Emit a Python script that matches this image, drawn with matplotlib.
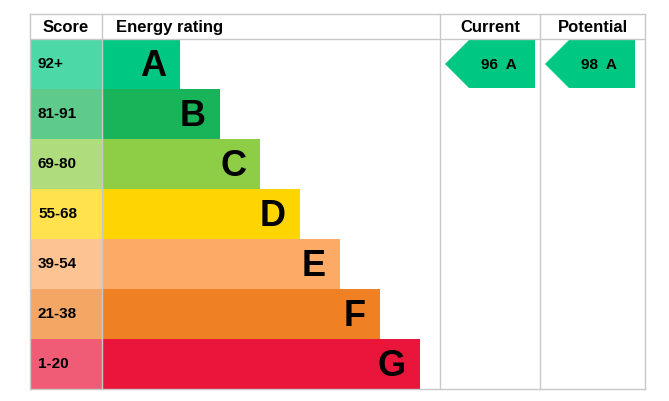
import matplotlib
matplotlib.use("Agg")
import matplotlib.pyplot as plt
from matplotlib.patches import Rectangle, Polygon
import matplotlib.colors as mc

bands = ["A", "B", "C", "D", "E", "F", "G"]
scores = ["92+", "81-91", "69-80", "55-68", "39-54", "21-38", "1-20"]
colors = ["#00c781", "#19b459", "#8dce46", "#ffd500", "#fcaa65", "#ef8023", "#e9153b"]
current_value, current_band = 96, "A"
potential_value, potential_band = 98, "A"

W, H = 669, 401
fig = plt.figure(figsize=(W/100, H/100), dpi=100)
ax = fig.add_axes([0, 0, 1, 1])
ax.set_xlim(0, W); ax.set_ylim(H, 0); ax.axis("off")
FONT = "Liberation Sans"

left, top, hdr, rowh = 30, 14, 39, 50
score_r, cur_l, pot_l, right = 102, 440, 540, 645
bottom = hdr + rowh*len(bands)

def lighten(c, f=0.3):
    r, g, b = mc.to_rgb(c)
    return (r+(1-r)*f, g+(1-g)*f, b+(1-b)*f)

for i, (b, s, c) in enumerate(zip(bands, scores, colors)):
    y = hdr + i*rowh
    ax.add_patch(Rectangle((left, y), score_r-left, rowh, color=lighten(c), lw=0))
    ax.text(left+8, y+rowh/2, s, fontsize=11, fontweight="bold", family=FONT, va="center", ha="left")
    end = score_r + 78 + 40*i
    ax.add_patch(Rectangle((score_r, y), end-score_r, rowh, color=c, lw=0))
    ax.text(end-14, y+rowh/2+3, b, fontsize=26, fontweight="bold", family=FONT, va="center", ha="right")

gc = "#c8c8c8"
for x in [left, score_r, cur_l, pot_l, right]:
    ax.plot([x, x], [top, bottom], color=gc, lw=1)
for y in [top, hdr, bottom]:
    ax.plot([left, right], [y, y], color=gc, lw=1)

for txt, x0, x1 in [("Score", left, score_r), ("Current", cur_l, pot_l), ("Potential", pot_l, right)]:
    ax.text((x0+x1)/2, (top+hdr)/2+1, txt, fontsize=12, fontweight="bold", family=FONT, ha="center", va="center")
ax.text(score_r+14, (top+hdr)/2+1, "Energy rating", fontsize=12, fontweight="bold", family=FONT, ha="left", va="center")

def arrow(x0, x1, val, band):
    i = bands.index(band)
    y0, y1 = hdr + i*rowh + 1, hdr + (i+1)*rowh - 1
    ym = (y0+y1)/2
    ax.add_patch(Polygon([(x0, ym), (x0+24, y0), (x1, y0), (x1, y1), (x0+24, y1)], color=colors[i], lw=0))
    ax.text((x0+x1)/2+9, ym+1, f"{val}  {band}", fontsize=11, fontweight="bold", family=FONT, ha="center", va="center")

arrow(445, 535, current_value, current_band)
arrow(545, 635, potential_value, potential_band)

fig.savefig("out.png", dpi=100)
